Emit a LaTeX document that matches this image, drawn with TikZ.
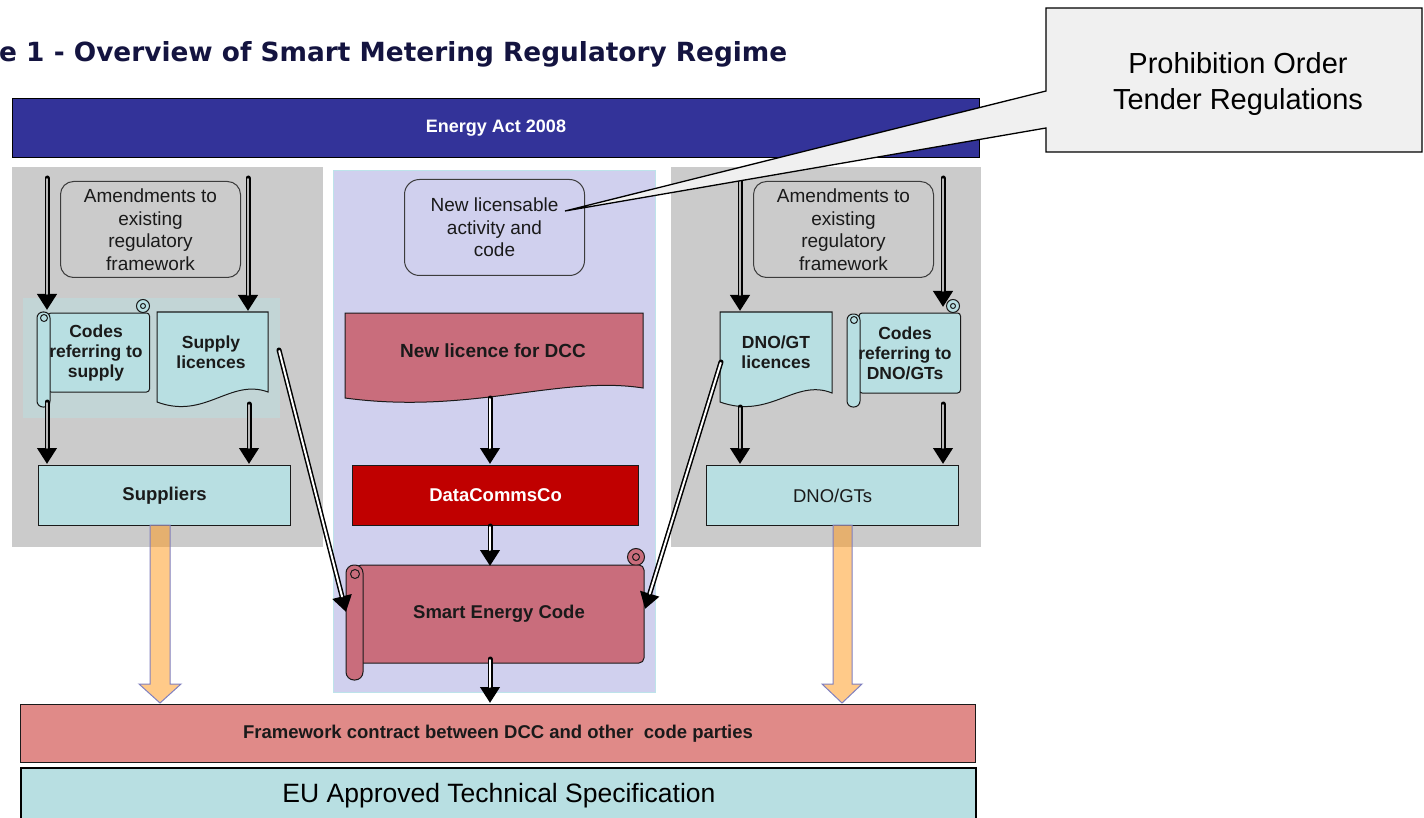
\documentclass[tikz,border=0pt]{standalone}
\usepackage{fontspec}
\setmainfont{Liberation Sans}
\newfontfamily\titlefont{DejaVu Sans}
\usetikzlibrary{arrows.meta}
\definecolor{actblue}{HTML}{333399}
\definecolor{panelgray}{HTML}{CBCBCB}
\definecolor{lav}{HTML}{D0D0EE}
\definecolor{lavedge}{HTML}{BDE3EA}
\definecolor{tealbox}{HTML}{B8DFE2}
\definecolor{tealgray}{HTML}{C2D5D6}
\definecolor{rose}{HTML}{C96D7C}
\definecolor{dccred}{HTML}{C00000}
\definecolor{fwred}{HTML}{E08A88}
\definecolor{callgray}{HTML}{F0F0F0}
\definecolor{arroworange}{RGB}{255,150,20}
\definecolor{arrowedge}{HTML}{8080C0}
\definecolor{ink}{HTML}{1A1A1A}
\definecolor{titleink}{HTML}{141440}
\tikzset{
  panelbox/.style={draw=none, inner sep=0pt, anchor=north west},
  flowbox/.style={draw=ink, line width=1.2pt, inner sep=0pt, anchor=north west, align=center,
    font=\bfseries\fontsize{18.5}{22}\selectfont, text=ink},
  roundbox/.style={draw=ink!85, line width=1pt, rounded corners=13pt, inner sep=0pt, anchor=north west,
    align=center, font=\fontsize{19}{22.5}\selectfont, text=ink},
  shapeline/.style={draw=ink, line width=1pt},
  labeltext/.style={align=center, inner sep=0pt, font=\bfseries\fontsize{17.5}{20}\selectfont, text=ink},
  darrow/.style={line width=5pt, line cap=round, draw=black, -{Triangle[width=19pt,length=16pt]},
    postaction={draw=gray!55, -, line width=1.8pt, shorten >=16pt, shorten <=1pt}},
  warrow/.style={line width=5pt, line cap=round, draw=black, -{Triangle[width=19pt,length=16pt]},
    postaction={draw=white, -, line width=2pt, shorten >=16pt, shorten <=1pt}},
  fatarrow/.style={fill=arroworange, fill opacity=0.5, draw=arrowedge, line width=1pt}
}
\begin{document}
\begin{tikzpicture}[x=1pt,y=-1pt]
\useasboundingbox (0,0) rectangle (1424,818);
\fill[white] (0,0) rectangle (1424,818);

% title
\node[anchor=base west, inner sep=0pt, text=titleink] (title) at (-1,62)
  {\resizebox{788pt}{!}{\titlefont\bfseries e 1 - Overview of Smart Metering Regulatory Regime}};

% top bar
\node[draw=black, line width=1pt, fill=actblue, inner sep=0pt, anchor=north west,
  minimum width=967pt, minimum height=59pt, text=white, font=\bfseries\fontsize{18}{21}\selectfont]
  (act) at (12,98) {Energy Act 2008};

% panels
\node[panelbox, fill=panelgray, minimum width=311pt, minimum height=380pt] (leftpanel) at (12,167) {};
\node[panelbox, fill=lav, draw=lavedge, line width=1pt, minimum width=322pt, minimum height=522pt] (midpanel) at (333,170) {};
\node[panelbox, fill=panelgray, minimum width=310pt, minimum height=380pt] (rightpanel) at (671,167) {};
\node[panelbox, fill=tealgray, minimum width=257pt, minimum height=120pt] (leftinner) at (23,298) {};

% rounded boxes
\node[roundbox, fill=panelgray, minimum width=180pt, minimum height=96pt] (amendL) at (60,181)
  {Amendments to\\existing\\regulatory\\framework};
\node[roundbox, fill=panelgray, minimum width=180pt, minimum height=96pt] (amendR) at (753,181)
  {Amendments to\\existing\\regulatory\\framework};
\node[roundbox, fill=lav, rounded corners=15pt, minimum width=180pt, minimum height=96pt] (newact) at (404,179)
  {New licensable\\activity and\\code};

% left scroll: codes referring to supply
\draw[shapeline, fill=tealbox] (143,306) circle (6.5);
\draw[shapeline, fill=tealbox, rounded corners=3pt] (48,313) -- (149.5,313) -- (149.5,392) -- (48,392) -- cycle;
\draw[shapeline] (143,306) circle (2.5);
\draw[shapeline, fill=tealbox, rounded corners=6pt] (37,312) rectangle (50,407);
\draw[shapeline] (44,318) circle (3.5);
\node[labeltext] (codesL) at (96,353) {Codes\\referring to\\supply};

% supply licences document
\draw[shapeline, fill=tealbox] (157,312) -- (268,312) -- (268,392)
  .. controls (230,378) and (205,420) .. (157,402) -- cycle;
\node[labeltext] (supplyL) at (211,352) {Supply\\licences};

% DNO/GT licences document
\draw[shapeline, fill=tealbox] (720,312) -- (832,312) -- (832,393)
  .. controls (795,378) and (770,420) .. (720,402) -- cycle;
\node[labeltext] (dnolic) at (776,352) {DNO/GT\\licences};

% right scroll: codes referring to DNO/GTs
\draw[shapeline, fill=tealbox] (953,306) circle (6.5);
\draw[shapeline, fill=tealbox, rounded corners=3pt] (859,313) -- (960.5,313) -- (960.5,393) -- (859,393) -- cycle;
\draw[shapeline] (953,306) circle (2.5);
\draw[shapeline, fill=tealbox, rounded corners=6pt] (847,314) rectangle (860,407);
\draw[shapeline] (854,320) circle (3.5);
\node[labeltext] (codesR) at (905,353) {Codes\\referring to\\DNO/GTs};

% new licence for DCC document
\draw[shapeline, fill=rose] (345,313) -- (643,313) -- (643,388)
  .. controls (560,375) and (470,415) .. (345,398) -- cycle;
\node[labeltext, font=\bfseries\fontsize{19}{22}\selectfont] (newlic) at (493,351) {New licence for DCC};

% flow boxes
\node[flowbox, fill=tealbox, minimum width=252pt, minimum height=60pt] (suppliers) at (38,465) {Suppliers};
\node[flowbox, fill=dccred, text=white, minimum width=286pt, minimum height=60pt] (dcc) at (352,465) {DataCommsCo};
\node[flowbox, fill=tealbox, font=\fontsize{18.5}{22}\selectfont, minimum width=252pt, minimum height=60pt] (dnogts) at (706,465) {DNO/GTs};

% smart energy code scroll
\draw[shapeline, fill=rose] (636,557) circle (8.5);
\draw[shapeline, fill=rose, rounded corners=5pt] (356,565) -- (644,565) -- (644,663) -- (356,663) -- cycle;
\draw[shapeline] (636,557) circle (3.5);
\draw[shapeline, fill=rose, rounded corners=8pt] (346,565) rectangle (363,680);
\draw[shapeline] (355,574) circle (4.5);
\node[labeltext, font=\bfseries\fontsize{18.5}{22}\selectfont] (sec) at (499,614) {Smart Energy Code};

% bottom bars
\node[draw=ink, line width=1pt, fill=fwred, inner sep=0pt, anchor=north west,
  minimum width=955pt, minimum height=58pt, text=ink, font=\bfseries\fontsize{18.5}{21}\selectfont]
  (framework) at (20,704) {Framework contract between DCC and other\ \ code parties};
\node[draw=black, line width=1.5pt, fill=tealbox, inner sep=0pt, anchor=north west,
  minimum width=955pt, minimum height=56pt] (euspec) at (20,767) {};
\node[text=black, font=\fontsize{26.5}{30}\selectfont, inner sep=0pt] (eutext) at (499,796) {EU Approved Technical Specification};

% connector coordinates
\coordinate (a1s) at (47,178);  \coordinate (a1e) at (47,310);
\coordinate (a2s) at (248,178); \coordinate (a2e) at (248,311);
\coordinate (a3s) at (47,402);  \coordinate (a3e) at (47,464);
\coordinate (a4s) at (249,404); \coordinate (a4e) at (249,464);
\coordinate (a5s) at (740,178); \coordinate (a5e) at (740,311);
\coordinate (a6s) at (943,178); \coordinate (a6e) at (943,307);
\coordinate (a7s) at (740,407); \coordinate (a7e) at (740,464);
\coordinate (a8s) at (943,404); \coordinate (a8e) at (943,464);
\coordinate (m1s) at (490,398); \coordinate (m1e) at (490,464);
\coordinate (m2s) at (490,526); \coordinate (m2e) at (490,566);
\coordinate (m3s) at (490,659); \coordinate (m3e) at (490,703);
\coordinate (d1s) at (279,350); \coordinate (d1e) at (346,612);
\coordinate (d2s) at (721,362); \coordinate (d2e) at (645,609);

\draw[darrow] (a1s) -- (a1e);
\draw[darrow] (a2s) -- (a2e);
\draw[darrow] (a3s) -- (a3e);
\draw[darrow] (a4s) -- (a4e);
\draw[darrow] (a5s) -- (a5e);
\draw[darrow] (a6s) -- (a6e);
\draw[darrow] (a7s) -- (a7e);
\draw[darrow] (a8s) -- (a8e);
\draw[warrow] (m1s) -- (m1e);
\draw[warrow] (m2s) -- (m2e);
\draw[warrow] (m3s) -- (m3e);
\draw[warrow] (d1s) -- (d1e);
\draw[warrow] (d2s) -- (d2e);

% fat orange arrows
\draw[fatarrow] (150,525) -- (170,525) -- (170,684) -- (181,684) -- (160,703) -- (139,684) -- (150,684) -- cycle;
\draw[fatarrow] (833,525) -- (852,525) -- (852,684) -- (862,684) -- (842,703) -- (822,684) -- (833,684) -- cycle;

% callout
\coordinate (callpt) at (565,211);
\draw[draw=black, line width=1.3pt, fill=callgray, line join=miter]
  (1046,8) -- (1422,8) -- (1422,152) -- (1046,152) -- (1046,128) -- (callpt) -- (1046,91) -- cycle;
\node[align=center, inner sep=0pt, text=black, font=\fontsize{29}{36}\selectfont] (callout) at (1238,84.5)
  {Prohibition Order\\Tender Regulations};
\end{tikzpicture}
\end{document}
